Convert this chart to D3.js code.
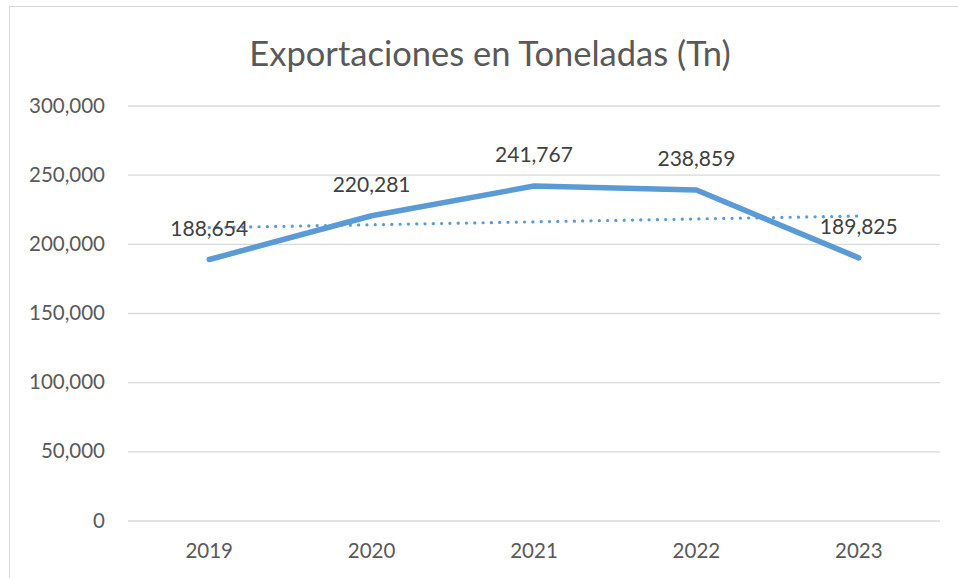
<!DOCTYPE html>
<html>
<head>
<meta charset="utf-8">
<script src="https://cdn.jsdelivr.net/npm/d3@7"></script>
<style>
  body { margin: 0; background: #fff; }
  text { font-family: Lato, "Open Sans", sans-serif; }
</style>
</head>
<body>
<div id="chart"></div>
<script>
// data
const YEARS = ["2019", "2020", "2021", "2022", "2023"];
const TONS = [188654, 220281, 241767, 238859, 189825];
// dotted linear trend, ends at first and last year
const TREND_YEARS = ["2019", "2023"];
const TREND_TONS = [211700, 220100];
const Y_TICKS = [0, 50000, 100000, 150000, 200000, 250000, 300000];

const WIDTH = 958;
const HEIGHT = 578;
const LEFT = 128, RIGHT = 940, TOP = 105.5, BOTTOM = 520.5;
const BLUE = "#5B9BD5";
const FONT = "Lato, 'Open Sans', sans-serif";

let svg = d3.select("#chart")
            .append("svg")
            .attr("width", WIDTH)
            .attr("height", HEIGHT);

// chart border (runs off the right and bottom)
svg.append("rect")
   .attr("x", 9.5)
   .attr("y", 6.5)
   .attr("width", 1000)
   .attr("height", 700)
   .attr("fill", "none")
   .attr("stroke", "#d9d9d9");

svg.append("text")
   .attr("x", 490)
   .attr("y", 66)
   .attr("text-anchor", "middle")
   .attr("font-size", 34.5)
   .attr("fill", "#595959")
   .text("Exportaciones en Toneladas (Tn)");

let xScale = d3.scaleBand()
               .domain(YEARS)
               .range([LEFT, RIGHT]);
let yScale = d3.scaleLinear()
               .domain([0, 300000])
               .range([BOTTOM, TOP]);
let cx = (d) => xScale(d) + xScale.bandwidth() / 2;

// gridlines + y labels
let yAxis = d3.axisLeft(yScale)
              .tickValues(Y_TICKS)
              .tickSize(-(RIGHT - LEFT))
              .tickPadding(23)
              .tickFormat(d3.format(","));
svg.append("g")
   .attr("transform", "translate(" + LEFT + ",0)")
   .call(yAxis)
   .call(g => g.select(".domain").remove())
   .call(g => g.selectAll("line").attr("stroke", "#d9d9d9").attr("stroke-width", 1.3))
   .call(g => g.selectAll("text").attr("font-size", 20.5).attr("fill", "#595959")
               .attr("font-family", FONT));

let xAxis = d3.axisBottom(xScale)
              .tickSize(0)
              .tickPadding(23);
svg.append("g")
   .attr("transform", "translate(0," + BOTTOM + ")")
   .call(xAxis)
   .call(g => g.select(".domain").remove())
   .call(g => g.selectAll("text").attr("font-size", 20.5).attr("fill", "#595959")
               .attr("font-family", FONT));

// trend line
let line = d3.line()
             .x((d) => cx(d[0]))
             .y((d) => yScale(d[1]));
svg.append("path")
   .datum(TREND_YEARS.map((y, i) => [y, TREND_TONS[i]]))
   .attr("d", line)
   .attr("fill", "none")
   .attr("stroke", BLUE)
   .attr("stroke-width", 3.2)
   .attr("stroke-linecap", "round")
   .attr("stroke-dasharray", "0.1 8.2");

// main series
svg.append("path")
   .datum(YEARS.map((y, i) => [y, TONS[i]]))
   .attr("d", line)
   .attr("fill", "none")
   .attr("stroke", BLUE)
   .attr("stroke-width", 5.5)
   .attr("stroke-linejoin", "round")
   .attr("stroke-linecap", "round");

// data labels
svg.selectAll(".label")
   .data(YEARS)
   .enter()
   .append("text")
   .attr("class", "label")
   .attr("x", (d) => cx(d))
   .attr("y", (d, i) => yScale(TONS[i]) - 24)
   .attr("text-anchor", "middle")
   .attr("font-size", 21)
   .attr("fill", "#404040")
   .text((d, i) => d3.format(",")(TONS[i]));
</script>
</body>
</html>
